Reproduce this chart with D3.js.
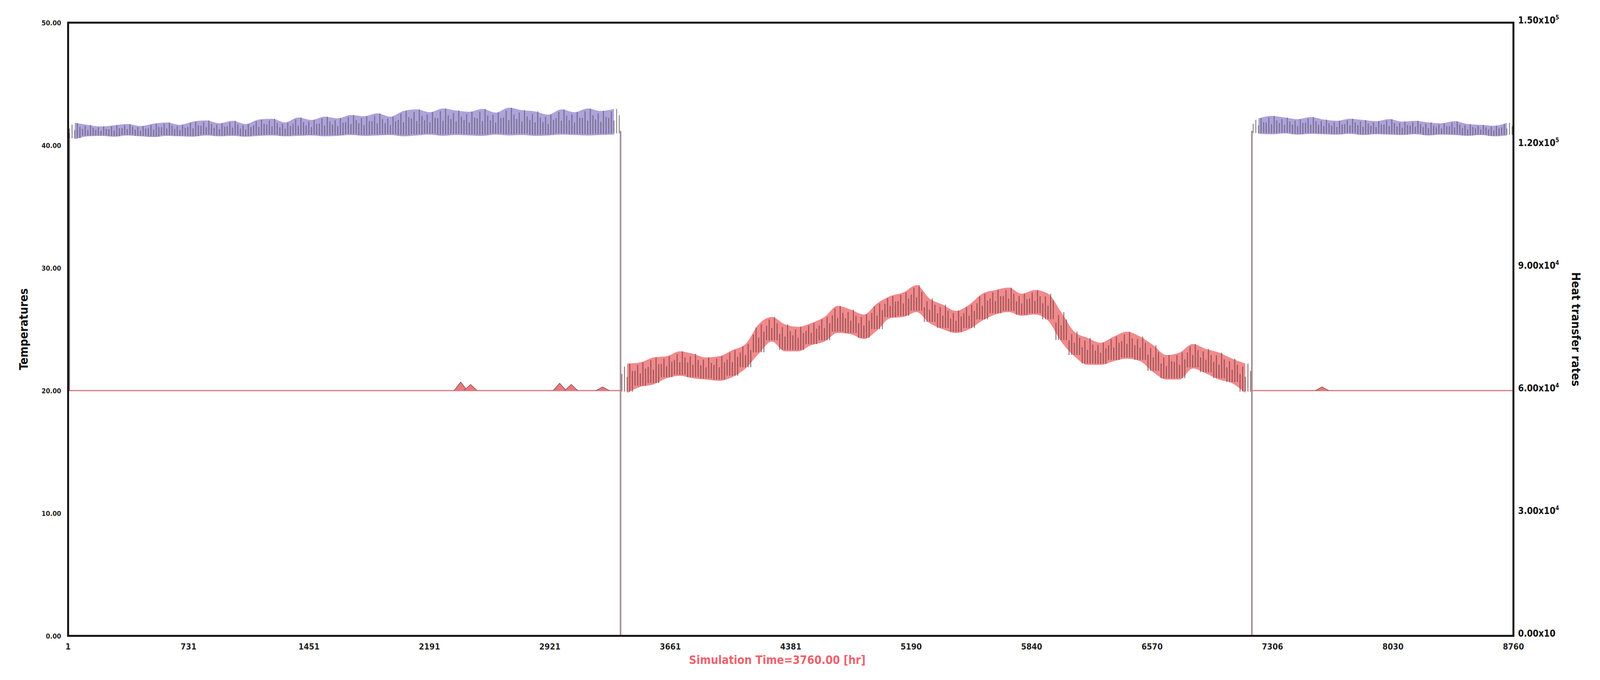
<!DOCTYPE html>
<html><head><meta charset="utf-8">
<script src="https://cdn.jsdelivr.net/npm/d3@7"></script>
<style>html,body{margin:0;background:#fff;overflow:hidden}svg{display:block;width:100vw;height:100vh}text{font-family:"Liberation Sans Narrow","DejaVu Sans Condensed",sans-serif;font-weight:bold}</style>
</head><body>
<script>
// tick labels
const xTickLabels = ["1","731","1451","2191","2921","3661","4381","5190","5840","6570","7306","8030","8760"];
const yLeftTicks = [0,10,20,30,40,50];
const yRightTicks = [0,30000,60000,90000,120000,150000];
const yRightLabels = [["0.00x10",""],["3.00x10","4"],["6.00x10","4"],["9.00x10","4"],["1.20x10","5"],["1.50x10","5"]];

// switch times [hr]
const offStart = 3349, offEnd = 7175;

// heat transfer rate bins (x1000 W), winter periods
const purpleLeftLo = [121.5,122.2,122.3,122.1,122.4,122.2,122.0,122.3,122.2,122.1,122.4,122.2,122.3,122.1,122.3,122.4,122.2,122.3,122.4,122.2,122.3,122.5,122.3,122.4,122.5,122.2,122.4,122.6,122.3,122.5,122.4,122.3,122.6,122.4,122.5,122.3,122.4,122.6,122.5,122.4,122.5,122.6];
const purpleLeftHi = [125.5,125.0,124.6,124.9,125.2,124.7,125.3,125.6,125.0,125.8,126.1,125.4,126.0,125.2,126.3,126.5,125.6,126.8,126.2,127.0,126.6,127.4,127.1,127.8,127.0,128.4,128.8,128.1,129.0,128.5,128.2,128.9,128.0,129.2,128.6,128.3,127.5,128.8,128.1,129.0,128.4,128.9];
const purpleRightLo = [122.8,122.7,122.9,122.6,122.8,122.7,122.6,122.8,122.5,122.7,122.6,122.5,122.7,122.4,122.6,122.5,122.3,122.5,122.2,122.4];
const purpleRightHi = [126.6,127.2,126.8,126.4,126.9,126.3,126.0,126.5,126.2,125.9,126.4,125.8,126.0,125.6,125.4,125.9,125.2,125.0,124.8,125.5];

// temperature bins during summer period
const redMid = [21.0,21.3,21.6,21.9,22.2,22.0,21.8,21.8,22.2,22.8,24.2,25.0,24.3,24.2,24.6,25.0,25.8,25.6,25.2,26.0,26.8,27.0,27.5,26.5,26.0,25.6,26.0,26.8,27.2,27.4,27.0,27.2,26.8,25.2,23.8,23.2,23.0,23.4,23.7,23.4,22.6,21.9,22.0,22.8,22.4,22.0,21.6,21.0];
const redSpread = [1.2,1.0,1.1,0.9,1.0,1.0,0.9,1.0,1.1,1.0,1.2,1.0,1.1,1.0,0.9,1.0,1.1,1.0,1.0,1.1,0.9,1.0,1.1,1.0,1.0,0.9,1.0,1.1,1.0,1.0,0.9,1.0,1.1,1.2,1.0,1.1,0.9,1.0,1.1,1.0,1.1,1.0,1.1,1.0,1.0,1.1,1.0,1.2];
// small bumps in constant 20 deg segments [hour, peak]
const redBumps = [[2380,20.7],[2440,20.5],[2980,20.6],[3050,20.5],[3240,20.3],[7600,20.3]];

const W = 4158, H = 1741;
const m = {l:177, r:W-3933, t:58, b:H-1628};
const svg = d3.select("body").append("svg").attr("viewBox", `0 0 ${W} ${H}`).attr("preserveAspectRatio", "none");

const x = d3.scaleLinear().domain([1, 8760]).range([m.l, W-m.r]);
const yL = d3.scaleLinear().domain([0, 50]).range([H-m.b, m.t]);
const yR = d3.scaleLinear().domain([0, 150000]).range([H-m.b, m.t]);

function bins(lo, hi, t0, t1) {
  const step = (t1 - t0) / lo.length;
  return lo.map((v, i) => ({t0: t0 + i*step, t1: t0 + (i+1)*step, lo: v*1000, hi: hi[i]*1000}));
}
const pl = bins(purpleLeftLo, purpleLeftHi, 1, offStart);
const pr = bins(purpleRightLo, purpleRightHi, offEnd, 8760);
const rStep = (offEnd - offStart) / redMid.length;
const rb = redMid.map((v, i) => ({t0: offStart + i*rStep, t1: offStart + (i+1)*rStep, lo: v - redSpread[i], hi: v + redSpread[i]}));

const g = svg.append("g");

// red constant segments
g.append("line").attr("x1", x(1)).attr("x2", x(offStart)).attr("y1", yL(20)).attr("y2", yL(20))
  .attr("stroke", "#d77a80").attr("stroke-width", 3);
g.append("line").attr("x1", x(offEnd)).attr("x2", x(8760)).attr("y1", yL(20)).attr("y2", yL(20))
  .attr("stroke", "#d77a80").attr("stroke-width", 3);
g.selectAll(".bump").data(redBumps).join("path")
  .attr("d", d => `M${x(d[0]-40)},${yL(20)}L${x(d[0])},${yL(d[1])}L${x(d[0]+40)},${yL(20)}`)
  .attr("fill", "#e8787c").attr("stroke", "#8a4a4a").attr("stroke-width", 1.5);

// vertical switch lines
g.append("line").attr("x1", x(1)+3).attr("x2", x(1)+3).attr("y1", yL(20)).attr("y2", yR(123000))
  .attr("stroke", "#8a7a88").attr("stroke-width", 4);
[offStart, offEnd].forEach(t => {
  g.append("line").attr("x1", x(t)).attr("x2", x(t)).attr("y1", yR(0)).attr("y2", yR(123500))
    .attr("stroke", "#a08c96").attr("stroke-width", 4);
});

// banded series: soft envelope plus dense daily strokes
function band(data, yS, fill, dark) {
  const area = d3.area().curve(d3.curveMonotoneX).x(d => x((d.t0+d.t1)/2)).y0(d => yS(d.lo)).y1(d => yS(d.hi));
  g.append("path").datum(data).attr("d", area).attr("fill", fill).attr("opacity", 0.8);
  const fr = [0.1, 0.3, 0.5, 0.7, 0.9], hs = [0.65, 0.9, 0.55, 1.0, 0.75];
  const sub = [];
  data.forEach(d => {
    fr.forEach((f, k) => sub.push({t: d.t0 + f*(d.t1-d.t0), lo: d.lo + (d.hi-d.lo)*0.05, hi: d.lo + (d.hi-d.lo)*hs[k]}));
  });
  g.selectAll(null).data(sub).join("line")
    .attr("x1", d => x(d.t)).attr("x2", d => x(d.t))
    .attr("y1", d => yS(d.lo)).attr("y2", d => yS(d.hi))
    .attr("stroke", dark).attr("stroke-width", 2.5).attr("opacity", 0.7);
}
band(pl, yR, "#9a8cd2", "#5a5560");
band(pr, yR, "#9a8cd2", "#5a5560");
band(rb, yL, "#ec6d70", "#6e3838");

// frame
svg.append("rect").attr("x", m.l).attr("y", m.t).attr("width", W-m.l-m.r).attr("height", H-m.t-m.b)
  .attr("fill", "none").attr("stroke", "#111").attr("stroke-width", 5);

// axes labels
const xt = d3.range(xTickLabels.length).map(i => 1 + i*(8759/(xTickLabels.length-1)));
svg.append("g").selectAll("text").data(xt).join("text")
  .attr("x", d => x(d)).attr("y", H-m.b+35).attr("text-anchor", "middle")
  .attr("font-size", 22).attr("fill", "#222").text((d, i) => xTickLabels[i]);
svg.append("g").selectAll("text").data(yLeftTicks).join("text")
  .attr("x", m.l-18).attr("y", d => yL(d)+7).attr("text-anchor", "end")
  .attr("font-size", 18).attr("fill", "#222").text(d => d.toFixed(2));
const rt = svg.append("g").selectAll("text").data(yRightTicks).join("text")
  .attr("x", W-m.r+12).attr("y", d => yR(d)+2)
  .attr("font-size", 24).attr("fill", "#111");
rt.append("tspan").text((d, i) => yRightLabels[i][0]);
rt.append("tspan").attr("dy", -10).attr("font-size", 15).text((d, i) => yRightLabels[i][1]);

svg.append("text").attr("transform", `translate(72,${(m.t+H-m.b)/2}) rotate(-90)`)
  .attr("text-anchor", "middle").attr("font-size", 30).attr("fill", "#111").text("Temperatures");
svg.append("text").attr("transform", `translate(4085,${(m.t+H-m.b)/2}) rotate(90)`)
  .attr("text-anchor", "middle").attr("font-size", 30).attr("fill", "#111").text("Heat transfer rates");
svg.append("text").attr("x", 2020).attr("y", 1700).attr("text-anchor", "middle")
  .attr("font-size", 30).attr("fill", "#f0626c").text("Simulation Time=3760.00 [hr]");
</script>
</body></html>
